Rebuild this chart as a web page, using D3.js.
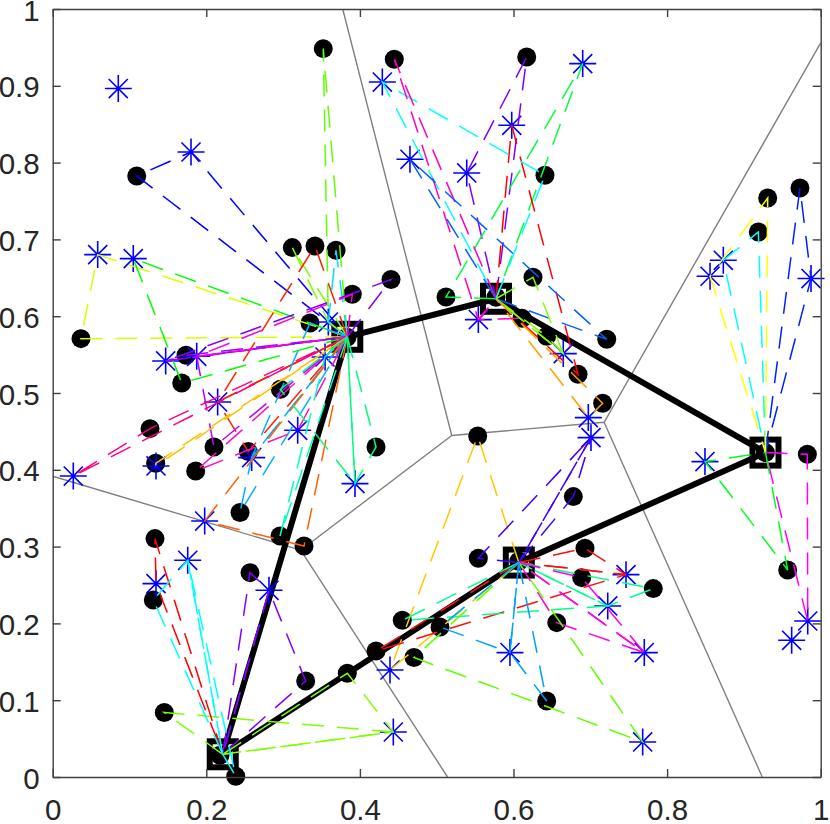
<!DOCTYPE html>
<html>
<head>
<meta charset="utf-8">
<script src="https://cdn.jsdelivr.net/npm/d3@7"></script>
<style>
body { margin: 0; background: #fff; }
svg { display: block; }
text { font-family: "Liberation Sans", sans-serif; }
</style>
</head>
<body>
<div id="chart"></div>
<script>
var depots = [[.2214,.0296],[.3836,.5732],[.5772,.6227],[.9281,.4224],[.6069,.2792]];
var tourOrder = [0,1,2,3,4,0];

var dots = [
  [.2569,.2661],[.3294,.125],[.1453,.0839],[.3836,.135],[.1332,.3104],[.131,.2305],[.2383,.0009],
  [.1094,.7826],[.0368,.5708],[.168,.513],[.3523,.9484],[.312,.6893],[.3689,.6858],[.3415,.6914],
  [.2547,.4237],[.4405,.6477],[.335,.5911],[.2439,.3443],[.21,.4297],[.1736,.5491],[.3901,.6285],
  [.1267,.4536],[.1341,.4085],[.1862,.3984],[.3272,.3008],[.296,.3138],[.421,.4297],[.2964,.5048],
  [.6172,.9375],[.5121,.625],[.684,.5243],[.641,.7835],[.4448,.9345],[.7214,.5699],[.6254,.6507],
  [.7161,.4866],[.6111,.5973],[.6432,.5738],[.973,.7669],[.9188,.7096],[.931,.7539],[.9826,.4202],
  [.957,.2695],[.5534,.444],[.5542,.2848],[.6779,.3651],[.6931,.2978],[.421,.1641],[.782,.2453],
  [.4552,.204],[.6888,.2596],[.6563,.201],[.4704,.1555],[.6432,.099],[.5043,.1953]
];
var depotDots = [[.2178,.0283],[.3832,.5725],[.5772,.6246],[.9281,.4224],[.6069,.2809]];

var stars = [
  [.2816,.2431],[.4435,.0586],[.1345,.2518],[.1758,.2822],[.1801,.8138],[.0586,.6802],[.1049,.675],
  [.3589,.5924],[.2148,.4883],[.1471,.5417],[.2591,.4159],[.1875,.5478],[.0268,.3919],[.1345,.405],
  [.319,.4514],[.1979,.3333],[.3546,.5469],[.3936,.382],[.5391,.7865],[.6901,.9289],[.5977,.8486],
  [.4292,.9049],[.5542,.5956],[.4652,.8043],[.6648,.5513],[.6974,.468],[.9874,.649],[.8732,.6728],
  [.8559,.652],[.9831,.2031],[.8493,.4107],[.4392,.1393],[.7009,.4419],[.7465,.2635],[.7227,.2227],
  [.7703,.162],[.7682,.0456],[.5954,.162],[.0854,.8964],[.9622,.178]
];

// one entry per dashed triangle: depot -> dot -> star -> depot
var routeDepot = [0,0,0,0,0,0,0, 1,1,1,1,1,1,1,1,1,1,1,1,1,1,1,1,1,1,1,1,1, 2,2,2,2,2,2,2,2,2,2, 3,3,3,3,3, 4,4,4,4,4,4,4,4,4,4,4,4];
var routeDot = [0,1,2,3,4,5,6, 7,8,9,10,11,12,13,14,15,16,17,18,19,20,21,22,23,24,25,26,27, 28,29,30,31,32,33,34,35,36,37, 38,39,40,41,42, 43,44,45,46,47,48,49,50,51,52,53,54];
var routeStar = [0,0,1,1,2,3,3, 4,5,6,7,7,7,8,8,9,10,10,11,9,11,12,13,14,15,16,17,17, 18,19,20,21,22,23,24,25,22,24, 26,27,28,29,30, 31,32,32,33,33,34,34,35,35,36,37,37];
var routeColor = [
  "#8000ff","#8000ff","#80ff00","#80ff00","#ff0000","#00ffff","#00ffff",
  "#0000ff","#d8ff00","#00ff00","#60ff00","#80ff00","#00e0ff","#ff2000","#ff2000","#8000ff","#00b0ff","#00b0ff",
  "#c000ff","#a000ff","#ff00e0","#ff0080","#ffc000","#ff10c0","#ff6000","#00ffc0","#00ff80","#00ff80",
  "#8000ff","#00ff40","#ff0000","#00ffff","#ff00c0","#0060ff","#80ff00","#ffa000","#ff00c0","#80ff00",
  "#0020ff","#00ffff","#ffff00","#ff00ff","#00ff20",
  "#ffc800","#4000ff","#4000ff","#ff1010","#ff1010","#00ff90","#00ff90","#ff00e0","#ff00e0","#60ff00","#00a0ff","#00a0ff"
];

var xTicks = [0,0.2,0.4,0.6,0.8,1];
var yTicks = [0,0.1,0.2,0.3,0.4,0.5,0.6,0.7,0.8,0.9,1];

var margin = {top: 9, left: 52.7};
var plotSize = 768;

var svg = d3.select("#chart").append("svg")
  .attr("width", 830)
  .attr("height", 824)
  .append("g")
  .attr("transform", `translate(${margin.left}, ${margin.top})`);

var x = d3.scaleLinear().domain([0,1]).range([0,plotSize]);
var y = d3.scaleLinear().domain([0,1]).range([plotSize,0]);

// voronoi cells of the depots
var voronoi = d3.Delaunay.from(depots, d => x(d[0]), d => y(d[1])).voronoi([0,0,plotSize,plotSize]);
svg.append("path")
  .attr("d", voronoi.render())
  .attr("fill", "none")
  .attr("stroke", "#808080")
  .attr("stroke-width", 1.4);

var line = d3.line().x(d => x(d[0])).y(d => y(d[1]));

svg.append("path")
  .attr("d", line(tourOrder.map(i => depots[i])))
  .attr("fill", "none")
  .attr("stroke", "#000")
  .attr("stroke-width", 6)
  .attr("stroke-linejoin", "round");

svg.selectAll(".depot")
  .data(depots)
  .enter()
  .append("rect")
  .attr("class", "depot")
  .attr("x", d => x(d[0]) - 13)
  .attr("y", d => y(d[1]) - 13)
  .attr("width", 26)
  .attr("height", 26)
  .attr("fill", "none")
  .attr("stroke", "#000")
  .attr("stroke-width", 6);

svg.selectAll(".dot")
  .data(dots.concat(depotDots))
  .enter()
  .append("circle")
  .attr("class", "dot")
  .attr("cx", d => x(d[0]))
  .attr("cy", d => y(d[1]))
  .attr("r", 9.5)
  .attr("fill", "#000");

// matlab style asterisk, plus and cross
var asterisk = {
  draw: function(context, size) {
    var r = Math.sqrt(size);
    for (var i = 0; i < 4; i++) {
      var a = i * Math.PI / 4;
      context.moveTo(-r * Math.cos(a), -r * Math.sin(a));
      context.lineTo(r * Math.cos(a), r * Math.sin(a));
    }
  }
};

svg.selectAll(".star")
  .data(stars)
  .enter()
  .append("path")
  .attr("class", "star")
  .attr("d", d3.symbol().type(asterisk).size(182))
  .attr("transform", d => `translate(${x(d[0])}, ${y(d[1])})`)
  .attr("fill", "none")
  .attr("stroke", "#0000ff")
  .attr("stroke-width", 1.6);

svg.selectAll(".route")
  .data(routeDot.map((d, i) => i))
  .enter()
  .append("path")
  .attr("class", "route")
  .attr("d", i => line([depots[routeDepot[i]], dots[routeDot[i]], stars[routeStar[i]], depots[routeDepot[i]]]))
  .attr("fill", "none")
  .attr("stroke", i => routeColor[i])
  .attr("stroke-width", 1.5)
  .attr("stroke-dasharray", "22,13");

// box with inward ticks on all four sides
var fmt = d => String(d);

var axisGroups = [
  {axis: d3.axisBottom(x).tickValues(xTicks).tickFormat(fmt), at: [0,plotSize], pad: 22},
  {axis: d3.axisLeft(y).tickValues(yTicks).tickFormat(fmt), at: [0,0], pad: 13},
  {axis: d3.axisTop(x).tickValues(xTicks).tickFormat(""), at: [0,0], pad: 0},
  {axis: d3.axisRight(y).tickValues(yTicks).tickFormat(""), at: [plotSize,0], pad: 0}
];

axisGroups.forEach(function(a) {
  var g = svg.append("g")
    .attr("transform", `translate(${a.at[0]}, ${a.at[1]})`)
    .call(a.axis.tickSizeInner(-8).tickSizeOuter(0).tickPadding(a.pad));
  g.selectAll("path, line").attr("stroke", "#404040").attr("stroke-width", 1.4);
  g.selectAll("text").style("font-size", "29.5px").attr("fill", "#262626");
  g.attr("font-family", null);
});

// left labels sit a little below the tick in the original
svg.selectAll("g text")
  .filter(function() { return this.getAttribute("x") !== null; })
  .attr("dy", "11px");
</script>
</body>
</html>
